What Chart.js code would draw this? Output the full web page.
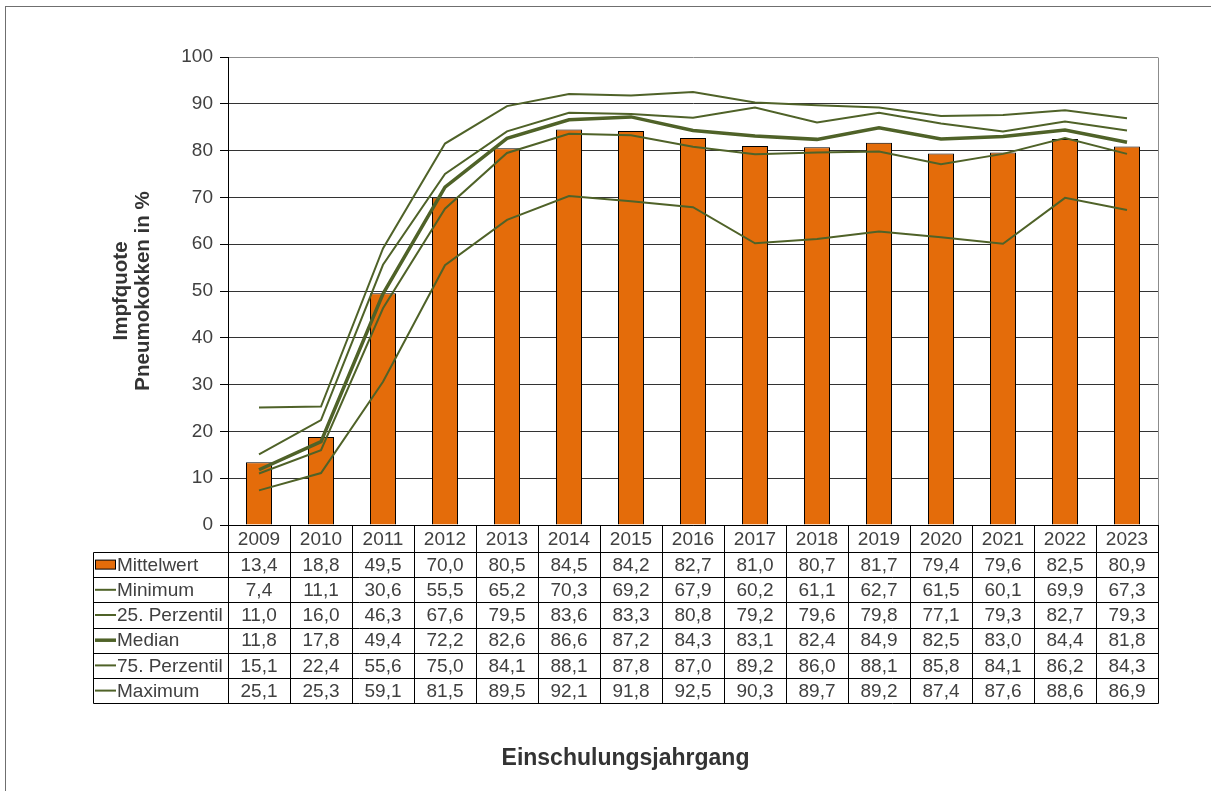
<!DOCTYPE html>
<html lang="de">
<head>
<meta charset="utf-8">
<title>Impfquote Pneumokokken</title>
<script src="https://cdn.jsdelivr.net/npm/chart.js@4.4.1/dist/chart.umd.min.js"></script>
<style>
  html, body { margin: 0; padding: 0; background: #fff; }
  canvas { display: block; }
</style>
</head>
<body>
<canvas id="impfChart" width="1211" height="791"></canvas>
<script>
const jahrgaenge = ["2009", "2010", "2011", "2012", "2013", "2014", "2015", "2016", "2017", "2018", "2019", "2020", "2021", "2022", "2023"];
const mittelwert = [13.4, 18.8, 49.5, 70.0, 80.5, 84.5, 84.2, 82.7, 81.0, 80.7, 81.7, 79.4, 79.6, 82.5, 80.9];
const minimum = [7.4, 11.1, 30.6, 55.5, 65.2, 70.3, 69.2, 67.9, 60.2, 61.1, 62.7, 61.5, 60.1, 69.9, 67.3];
const perzentil25 = [11.0, 16.0, 46.3, 67.6, 79.5, 83.6, 83.3, 80.8, 79.2, 79.6, 79.8, 77.1, 79.3, 82.7, 79.3];
const median = [11.8, 17.8, 49.4, 72.2, 82.6, 86.6, 87.2, 84.3, 83.1, 82.4, 84.9, 82.5, 83.0, 84.4, 81.8];
const perzentil75 = [15.1, 22.4, 55.6, 75.0, 84.1, 88.1, 87.8, 87.0, 89.2, 86.0, 88.1, 85.8, 84.1, 86.2, 84.3];
const maximum = [25.1, 25.3, 59.1, 81.5, 89.5, 92.1, 91.8, 92.5, 90.3, 89.7, 89.2, 87.4, 87.6, 88.6, 86.9];

const orange = "#E46C0A";
const oliv = "#4F6228";
const textGrau = "#404040";
const schrift = "'Liberation Sans', Arial, sans-serif";

Chart.defaults.font.family = schrift;
Chart.defaults.color = textGrau;

const linie = (label, data, breite) => ({
  type: "line",
  label: label,
  data: data,
  borderColor: oliv,
  backgroundColor: oliv,
  borderWidth: breite,
  pointRadius: 0,
  tension: 0,
  fill: false,
  order: 0,
});

const fmt = (v) => v.toFixed(1).replace(".", ",");

// Datentabelle unter dem Diagramm + Rahmen
const datenTabelle = {
  id: "datenTabelle",
  afterDraw(chart) {
    const { ctx, scales: { x } } = chart;
    const n = jahrgaenge.length;
    const colW = (x.right - x.left) / n;
    const tabLeft = 93;
    const top = x.top;
    const headBottom = 552;
    const rowH = 25.2;
    const datasets = chart.data.datasets;
    const tabBottom = headBottom + rowH * datasets.length;
    const px = (v) => Math.round(v) + 0.5;

    ctx.save();

    // rechter Rand der Zeichenfläche
    ctx.strokeStyle = "#8c8c8c";
    ctx.lineWidth = 1;
    ctx.beginPath();
    ctx.moveTo(px(x.right), px(chart.chartArea.top));
    ctx.lineTo(px(x.right), top);
    ctx.stroke();

    // Gitter der Tabelle
    ctx.strokeStyle = "#000";
    ctx.beginPath();
    for (let i = 0; i <= n; i++) {
      const lx = px(x.left + i * colW);
      ctx.moveTo(lx, top);
      ctx.lineTo(lx, px(tabBottom));
    }
    ctx.moveTo(px(tabLeft), px(headBottom));
    ctx.lineTo(px(tabLeft), px(tabBottom));
    for (let r = 0; r <= datasets.length; r++) {
      const ly = px(headBottom + r * rowH);
      ctx.moveTo(px(tabLeft), ly);
      ctx.lineTo(px(x.right), ly);
    }
    ctx.stroke();

    // Kopfzeile mit Jahrgängen
    ctx.font = "19px " + schrift;
    ctx.fillStyle = textGrau;
    ctx.textAlign = "center";
    ctx.textBaseline = "middle";
    jahrgaenge.forEach((j, i) => {
      ctx.fillText(j, x.getPixelForValue(i), (top + headBottom) / 2 + 1);
    });

    // Zeilen
    datasets.forEach((ds, r) => {
      const cy = headBottom + r * rowH + rowH / 2 + 1;
      // Legendensymbol
      if (ds.type === "bar") {
        ctx.fillStyle = orange;
        ctx.fillRect(95.5, cy - 5.5, 20, 9);
        ctx.strokeStyle = "#000";
        ctx.strokeRect(95.5, cy - 5.5, 20, 9);
      } else {
        ctx.strokeStyle = oliv;
        ctx.lineWidth = ds.borderWidth;
        ctx.beginPath();
        ctx.moveTo(95, cy - 1);
        ctx.lineTo(116, cy - 1);
        ctx.stroke();
        ctx.lineWidth = 1;
      }
      ctx.fillStyle = textGrau;
      ctx.textAlign = "left";
      ctx.fillText(ds.label, 117, cy);
      ctx.textAlign = "center";
      ds.data.forEach((v, i) => {
        ctx.fillText(fmt(v), x.getPixelForValue(i), cy);
      });
    });

    // äußerer Rahmen
    ctx.strokeStyle = "#6f6f6f";
    ctx.strokeRect(5.5, 6.5, 1300, 900);
    ctx.restore();
  },
};

const weissHintergrund = {
  id: "weissHintergrund",
  beforeDraw(chart) {
    const { ctx } = chart;
    ctx.save();
    ctx.fillStyle = "#fff";
    ctx.fillRect(0, 0, chart.width, chart.height);
    ctx.restore();
  },
};

const ctx = document.getElementById("impfChart");

new Chart(ctx, {
  data: {
    labels: jahrgaenge,
    datasets: [
      {
        type: "bar",
        label: "Mittelwert",
        data: mittelwert,
        backgroundColor: orange,
        borderColor: "#000",
        borderWidth: 1,
        barPercentage: 0.42,
        categoryPercentage: 1,
        order: 1,
      },
      linie("Minimum", minimum, 2),
      linie("25. Perzentil", perzentil25, 2),
      linie("Median", median, 3.5),
      linie("75. Perzentil", perzentil75, 2),
      linie("Maximum", maximum, 2),
    ],
  },
  options: {
    responsive: false,
    animation: false,
    layout: {
      padding: { left: 93, right: 53, top: 57, bottom: 0 },
    },
    scales: {
      x: {
        grid: { display: false },
        border: { color: "#000", width: 1 },
        ticks: { display: false },
        afterFit: (scale) => {
          scale.height = 209.4;
        },
      },
      y: {
        min: 0,
        max: 100,
        grid: {
          color: (c) => (c.tick && c.tick.value === 100 ? "#8c8c8c" : "#333"),
          tickColor: "#000",
          tickLength: 8,
        },
        border: { color: "#000", width: 1 },
        ticks: {
          stepSize: 10,
          padding: 7,
          color: textGrau,
          font: { size: 19 },
        },
        title: {
          display: true,
          text: ["Impfquote", "Pneumokokken in %"],
          color: "#333",
          font: { size: 20.5, weight: "bold", lineHeight: 1.05 },
          padding: { top: 18, bottom: 0 },
        },
        afterFit: (scale) => {
          scale.width = 135;
        },
      },
    },
    plugins: {
      legend: { display: false },
      tooltip: { enabled: false },
      title: {
        display: true,
        position: "bottom",
        text: "Einschulungsjahrgang",
        color: "#333",
        font: { size: 23, weight: "bold", lineHeight: 1.2 },
        padding: { top: 10, bottom: 19 },
      },
    },
  },
  plugins: [weissHintergrund, datenTabelle],
});
</script>
</body>
</html>
